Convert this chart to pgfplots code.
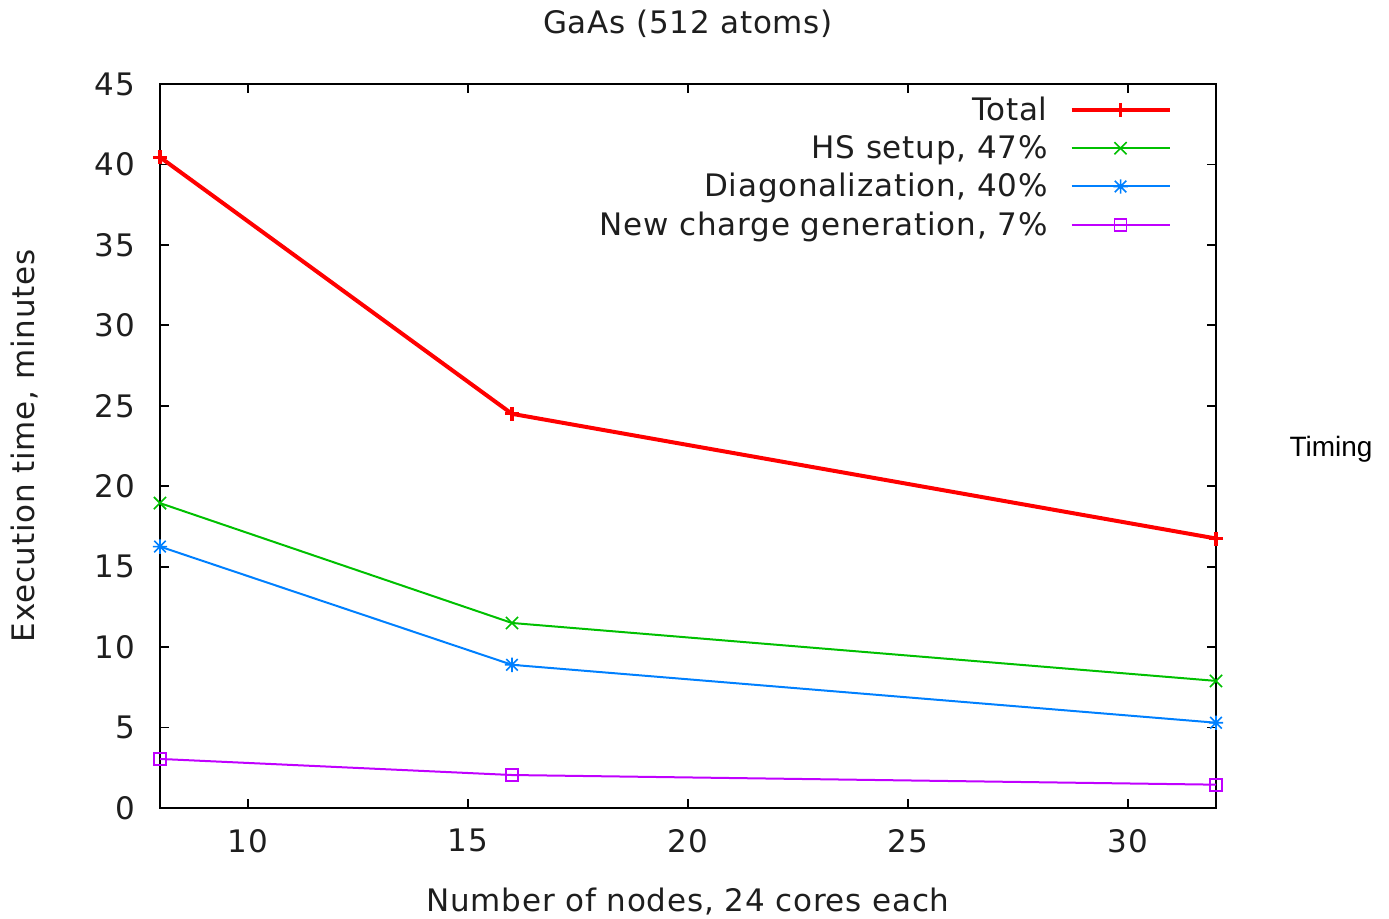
\documentclass[border=0pt]{standalone}
\usepackage{pgfplots}
\pgfplotsset{compat=1.18}
\usepackage{fontspec}
\setmainfont{DejaVu Sans}[LetterSpace=2.5]
\newfontfamily\timingfont{Liberation Sans}
\definecolor{gpred}{RGB}{255,0,0}
\definecolor{gpgreen}{RGB}{0,192,0}
\definecolor{gpblue}{RGB}{0,128,255}
\definecolor{gppurple}{RGB}{192,0,255}
\definecolor{gptext}{RGB}{30,30,30}
\pgfdeclareplotmark{gpstar}{%
  \pgfpathmoveto{\pgfqpoint{-\pgfplotmarksize}{0pt}}\pgfpathlineto{\pgfqpoint{\pgfplotmarksize}{0pt}}%
  \pgfpathmoveto{\pgfqpoint{0pt}{-\pgfplotmarksize}}\pgfpathlineto{\pgfqpoint{0pt}{\pgfplotmarksize}}%
  \pgfpathmoveto{\pgfqpoint{-0.8\pgfplotmarksize}{-0.8\pgfplotmarksize}}\pgfpathlineto{\pgfqpoint{0.8\pgfplotmarksize}{0.8\pgfplotmarksize}}%
  \pgfpathmoveto{\pgfqpoint{-0.8\pgfplotmarksize}{0.8\pgfplotmarksize}}\pgfpathlineto{\pgfqpoint{0.8\pgfplotmarksize}{-0.8\pgfplotmarksize}}%
  \pgfusepathqstroke}
\begin{document}
\begin{tikzpicture}[font=\fontsize{15.5pt}{18pt}\selectfont]
\path[use as bounding box] (-80pt,-55pt) rectangle (614.5pt,404pt);
\begin{axis}[
  scale only axis,
  width=528pt, height=362pt,
  xmin=8, xmax=32, ymin=0, ymax=45,
  xtick={10,15,20,25,30},
  ytick={0,5,10,15,20,25,30,35,40,45},
  tick align=inside, tick pos=both,
  major tick length=4.5pt,
  axis line style={line width=0.9pt},
  every tick/.style={black, line width=0.9pt},
  /pgf/number format/assume math mode=true,
  yticklabel style={xshift=-9pt, text=gptext},
  xticklabel style={yshift=-7pt, text=gptext},
  every axis title/.style={at={(axis description cs:0.5,1.0829)},anchor=center,text=gptext},
  every axis x label/.style={at={(axis description cs:0.5,-0.1298)},anchor=center,text=gptext},
  every axis y label/.style={at={(axis description cs:-0.12784,0.5)},rotate=90,anchor=center,text=gptext},
  title={GaAs (512 atoms)},
  xlabel={Number of nodes, 24 cores each},
  ylabel={Execution time, minutes},
  clip=false,
  legend plot pos=right,
  legend cell align=right,
  legend image code/.code={\draw[mark repeat=2,mark phase=2] plot coordinates {(0pt,0pt) (24.5pt,0pt) (49pt,0pt)};},
  legend style={draw=none, fill=none, at={(axis description cs:0.9583,0.99)}, anchor=north east,
    inner sep=0pt, row sep=1pt, column sep=8.5pt, nodes={inner sep=2.5pt, text=gptext}},
  mark size=3.2pt,
]
\addplot[gpred, line width=2pt, mark=+, mark size=3.5pt, mark options={line width=1.6pt}] coordinates {(8,40.45) (16,24.5) (32,16.75)};
\addlegendentry{Total}
\addplot[gpgreen, line width=1pt, mark=x, mark size=4.3pt, mark options={line width=0.8pt}] coordinates {(8,18.95) (16,11.5) (32,7.9)};
\addlegendentry{HS setup, 47\%}
\addplot[gpblue, line width=1pt, mark=gpstar, mark size=3.6pt, mark options={line width=0.8pt}] coordinates {(8,16.25) (16,8.9) (32,5.3)};
\addlegendentry{Diagonalization, 40\%}
\addplot[gppurple, line width=1pt, mark=square, mark size=3pt, mark options={line width=0.9pt}] coordinates {(8,3.05) (16,2.05) (32,1.45)};
\addlegendentry{New charge generation, 7\%}
\node[font=\timingfont\fontsize{14pt}{16pt}\selectfont, anchor=center] at (axis description cs:1.1089,0.4959) {Timing};
\end{axis}
\end{tikzpicture}
\end{document}
